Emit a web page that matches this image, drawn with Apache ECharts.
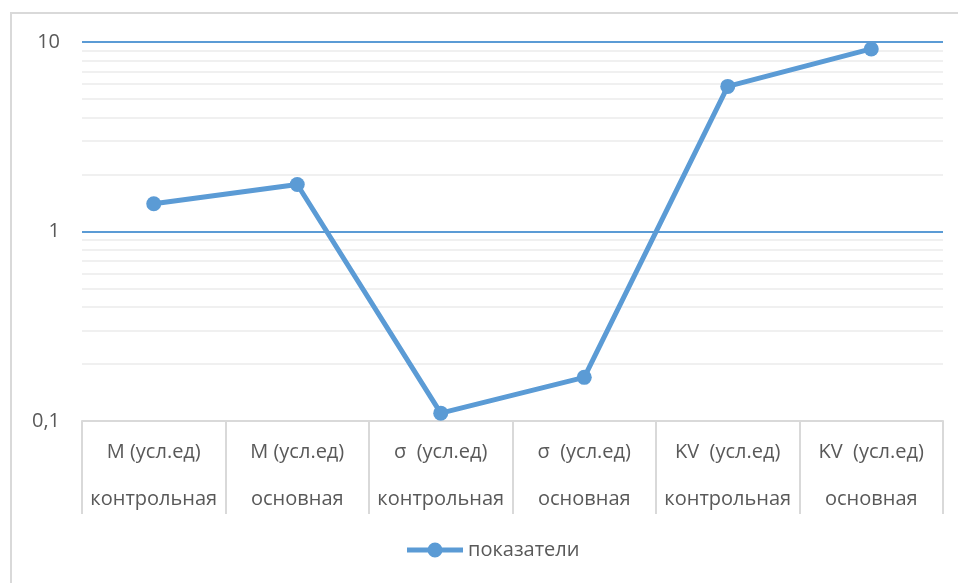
<!DOCTYPE html>
<html>
<head>
<meta charset="utf-8">
<script src="https://cdn.jsdelivr.net/npm/echarts@6/dist/echarts.min.js"></script>
<style>
  html, body { margin: 0; padding: 0; background: #ffffff; }
  #chart { width: 958px; height: 583px; }
</style>
</head>
<body>
<div id="chart"></div>
<script>
// Category labels: indicator (top line) and group (bottom line)
const indicators = ['M (усл.ед)', 'M (усл.ед)', 'σ  (усл.ед)', 'σ  (усл.ед)', 'KV  (усл.ед)', 'KV  (усл.ед)'];
const groups = ['контрольная', 'основная', 'контрольная', 'основная', 'контрольная', 'основная'];
const categories = indicators.map((t, i) => t + '\n' + groups[i]);

// Series values (log scale)
const seriesName = 'показатели';
const values = [1.40, 1.77, 0.11, 0.17, 5.83, 9.19];

// Logarithmic axis bounds and minor gridline positions
const yMin = 0.1;
const yMax = 10;
const minorLevels = [0.2, 0.3, 0.4, 0.5, 0.6, 0.7, 0.8, 0.9, 2, 3, 4, 5, 6, 7, 8, 9];

const textColor = '#595959';
const lineColor = '#5b9bd5';
const frameColor = '#d9d9d9';
const fontFamily = '"Open Sans", "Noto Sans", "Liberation Sans", sans-serif';

// Legend key: thick line segment with a dot in the middle
const legendIcon = 'path://M0,5L56,5L56,10L0,10Z M20.5,7.5a7.5,7.5 0 1,1 15,0a7.5,7.5 0 1,1 -15,0Z';

const chart = echarts.init(document.getElementById('chart'), null, { renderer: 'canvas' });

chart.setOption({
  animation: false,
  backgroundColor: '#ffffff',
  graphic: [{
    type: 'rect',
    shape: { x: 11, y: 13, width: 980, height: 600 },
    style: { fill: 'none', stroke: frameColor, lineWidth: 2 },
    silent: true,
    z: 0
  }],
  grid: { left: 82, right: 15, top: 42, bottom: 162 },
  legend: {
    data: [{ name: seriesName, icon: legendIcon }],
    left: 407,
    top: 540,
    padding: 0,
    itemWidth: 56,
    itemHeight: 15,
    itemGap: 5,
    itemStyle: { color: lineColor },
    textStyle: { color: textColor, fontSize: 20, fontFamily: fontFamily, padding: [0, 0, 0, 0] }
  },
  xAxis: {
    type: 'category',
    data: categories,
    boundaryGap: true,
    axisLine: { show: true, lineStyle: { color: frameColor, width: 2 } },
    axisTick: { show: true, length: 93, lineStyle: { color: frameColor, width: 2 } },
    axisLabel: {
      color: textColor,
      fontSize: 20,
      fontFamily: fontFamily,
      lineHeight: 47,
      margin: 8,
      interval: 0
    },
    splitLine: { show: false }
  },
  yAxis: {
    type: 'log',
    logBase: 10,
    min: yMin,
    max: yMax,
    axisLine: { show: false },
    axisTick: { show: false },
    axisLabel: {
      color: textColor,
      fontSize: 20,
      fontFamily: fontFamily,
      margin: 22,
      formatter: v => String(v).replace('.', ',')
    },
    splitLine: { show: true, lineStyle: { color: lineColor, width: 2 } }
  },
  series: [{
    name: seriesName,
    type: 'line',
    data: values,
    symbol: 'circle',
    symbolSize: 15,
    lineStyle: { color: lineColor, width: 5 },
    itemStyle: { color: lineColor },
    z: 5,
    markLine: {
      silent: true,
      symbol: 'none',
      label: { show: false },
      lineStyle: { color: '#f0f0f0', width: 2, type: 'solid' },
      z: 1,
      data: minorLevels.map(v => ({ yAxis: v }))
    }
  }]
});
</script>
</body>
</html>
